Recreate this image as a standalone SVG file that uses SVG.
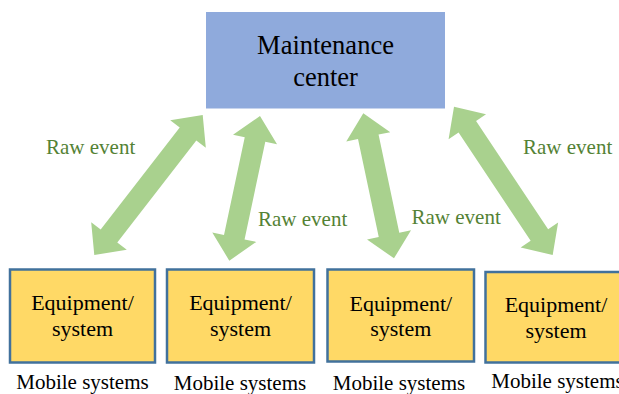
<svg xmlns="http://www.w3.org/2000/svg" width="619" height="394" viewBox="0 0 619 394">
<style>
.arrow{fill:#A9D18E;stroke:none}
.eq{fill:#FFD966;stroke:#41719C;stroke-width:2.5}
.mc{fill:#8FAADC;stroke:none}
.t{fill:#000;text-anchor:middle}
.lbl{fill:#548235;font-size:21px}
</style>
<rect width="619" height="394" fill="#fff"/>
<g font-family="'Liberation Serif', 'Times New Roman', serif">
<g id="connectors">
<path class="arrow" transform="translate(148.5,185) rotate(-52.25)" d="M-88.55,0 L-64.55,-22.5 L-64.55,-10.5 L64.55,-10.5 L64.55,-22.5 L88.55,0 L64.55,22.5 L64.55,10.5 L-64.55,10.5 L-64.55,22.5 Z"/>
<path class="arrow" transform="translate(244.65,188.35) rotate(-78.02)" d="M-73.95,0 L-49.95,-22.5 L-49.95,-10.5 L49.95,-10.5 L49.95,-22.5 L73.95,0 L49.95,22.5 L49.95,10.5 L-49.95,10.5 L-49.95,22.5 Z"/>
<path class="arrow" transform="translate(378.65,185.8) rotate(-101.95)" d="M-74.1,0 L-50.1,-22.5 L-50.1,-10.5 L50.1,-10.5 L50.1,-22.5 L74.1,0 L50.1,22.5 L50.1,10.5 L-50.1,10.5 L-50.1,22.5 Z"/>
<path class="arrow" transform="translate(503.35,180.85) rotate(-123.64)" d="M-89.05,0 L-65.05,-22.5 L-65.05,-10.5 L65.05,-10.5 L65.05,-22.5 L89.05,0 L65.05,22.5 L65.05,10.5 L-65.05,10.5 L-65.05,22.5 Z"/>
<text class="lbl" x="46" y="154">Raw event</text>
<text class="lbl" x="258" y="226">Raw event</text>
<text class="lbl" x="411.5" y="224">Raw event</text>
<text class="lbl" x="523" y="154">Raw event</text>
</g>
<g id="maintenance-center">
<rect class="mc" x="206" y="12" width="239" height="96.5"/>
<text class="t" x="325.5" y="53.5" font-size="26.5">Maintenance</text>
<text class="t" x="325.5" y="86" font-size="26.5">center</text>
</g>
<g id="equipment-1">
<rect class="eq" x="10" y="269.5" width="145" height="93"/>
<text class="t" x="82.5" y="310" font-size="22">Equipment/</text>
<text class="t" x="82.5" y="336" font-size="22">system</text>
<text class="t" x="82.5" y="389" font-size="21">Mobile systems</text>
</g>
<g id="equipment-2">
<rect class="eq" x="167" y="269.5" width="147" height="93"/>
<text class="t" x="240.5" y="310" font-size="22">Equipment/</text>
<text class="t" x="240.5" y="336" font-size="22">system</text>
<text class="t" x="240" y="389.5" font-size="21">Mobile systems</text>
</g>
<g id="equipment-3">
<rect class="eq" x="327.5" y="269.5" width="146.5" height="92"/>
<text class="t" x="400.8" y="310.5" font-size="22">Equipment/</text>
<text class="t" x="400.8" y="336" font-size="22">system</text>
<text class="t" x="399" y="389.5" font-size="21">Mobile systems</text>
</g>
<g id="equipment-4">
<rect class="eq" x="485.5" y="272" width="146" height="90.5"/>
<text class="t" x="556" y="311.5" font-size="22">Equipment/</text>
<text class="t" x="556" y="337.5" font-size="22">system</text>
<text class="t" x="557.5" y="388" font-size="21">Mobile systems</text>
</g>
</g>
</svg>
